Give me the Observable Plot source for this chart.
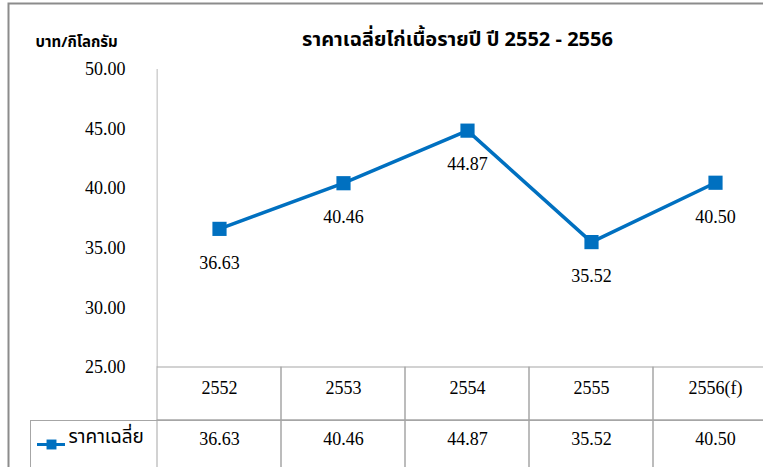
<!DOCTYPE html>
<html><head><meta charset="utf-8">
<script src="https://cdn.jsdelivr.net/npm/d3@7"></script>
<script src="https://cdn.jsdelivr.net/npm/@observablehq/plot@0.6"></script>
<style>
html,body{margin:0;padding:0;background:#fff;overflow:hidden;}
svg text.num{font-family:"Liberation Serif",serif !important;font-variant:normal !important;}
</style></head><body><div id="chart"></div>
<script>
const categories = ["2552", "2553", "2554", "2555", "2556(f)"];
const prices = [36.63, 40.46, 44.87, 35.52, 40.50];
const yTicks = [25, 30, 35, 40, 45, 50];
const title = "ราคาเฉลี่ยไก่เนื้อรายปี ปี 2552 - 2556";
const yLabel = "บาท/กิโลกรัม";
const seriesName = "ราคาเฉลี่ย";

const data = categories.map((c, i) => ({year: c, price: prices[i]}));

const serif = "Liberation Serif";
const thai = "Noto Sans Thai, Noto Serif Thai, DejaVu Sans, sans-serif";
const blue = "#0070C0";
const lineGray = "#a6a6a6";
const xRange = [155, 778];
const BW = (xRange[1] - xRange[0]) / categories.length;
const num = {fontFamily: serif, fontVariant: "normal", fontSize: 18};

const chart = Plot.plot({
  width: 763,
  height: 467,
  marginLeft: 155,
  marginRight: 0,
  marginTop: 69,
  marginBottom: 100,
  style: {fontFamily: serif, fontSize: "18px", color: "#000", background: "#fff"},
  x: {domain: categories, range: xRange, padding: 0, axis: null},
  y: {domain: [25, 50], axis: null},
  marks: [
    // outer chart border
    Plot.frame({stroke: "#8c8c8c", strokeWidth: 2, insetLeft: -147, insetTop: -66, insetRight: -30, insetBottom: -130}),
    // y axis line
    Plot.ruleX(categories.slice(0, 1), {x: d => d, dx: -BW / 2, stroke: "#d0d0d0", strokeWidth: 1.5}),
    // data table: header row cells and value row cells
    Plot.cell(categories, {x: d => d, fill: "none", stroke: lineGray, insetTop: 298, insetBottom: -53}),
    Plot.cell(categories, {x: d => d, fill: "none", stroke: lineGray, insetTop: 351, insetBottom: -120}),
    // legend cell border
    Plot.frame({stroke: lineGray, insetLeft: -125, insetTop: 351, insetBottom: -120, insetRight: -40}),
    // y tick labels
    Plot.text(yTicks, {y: d => d, text: d => d.toFixed(2), frameAnchor: "left", dx: -30, textAnchor: "end", className: "num", ...num}),
    // line + markers
    Plot.line(data, {x: "year", y: "price", stroke: blue, strokeWidth: 3.5}),
    Plot.dot(data, {x: "year", y: "price", symbol: "square", r: 8, fill: blue, stroke: "none"}),
    Plot.text(data, {x: "year", y: "price", text: d => d.price.toFixed(2), dy: 34, className: "num", ...num}),
    // table text
    Plot.text(categories, {x: d => d, frameAnchor: "bottom", dy: 26, className: "num", ...num}),
    Plot.text(data, {x: "year", text: d => d.price.toFixed(2), frameAnchor: "bottom", dy: 77, className: "num", ...num}),
    // legend in the table
    Plot.ruleY([25], {dy: 77, insetLeft: -118, insetRight: 698, stroke: blue, strokeWidth: 3}),
    Plot.dot([0], {frameAnchor: "bottom-left", dx: -104, dy: 77, symbol: "square", r: 5.6, fill: blue, stroke: "none"}),
    Plot.text([seriesName], {frameAnchor: "bottom-left", dx: -87, dy: 75, textAnchor: "start", fontFamily: thai, fontSize: 19}),
    // title and y label
    Plot.text([title], {frameAnchor: "top", dy: -38, dx: -2, fontFamily: thai, fontWeight: "bold", fontSize: 20}),
    Plot.text([yLabel], {frameAnchor: "top-left", dx: -120, dy: -33, textAnchor: "start", fontFamily: thai, fontWeight: "bold", fontSize: 15})
  ]
});
document.getElementById("chart").appendChild(chart);
</script>
</body></html>
